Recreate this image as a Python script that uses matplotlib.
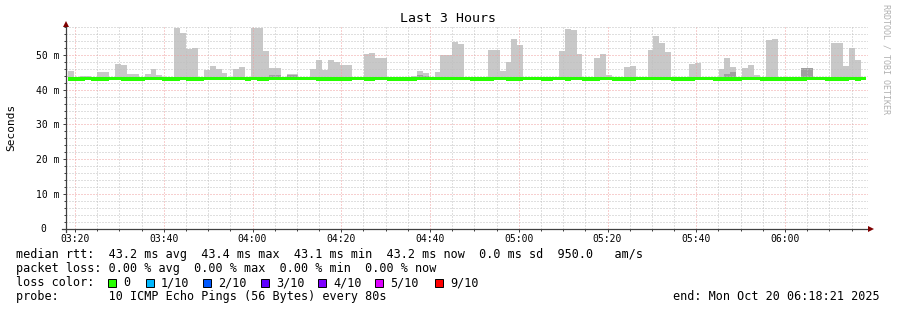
import matplotlib
matplotlib.use("Agg")
import matplotlib.pyplot as plt
import matplotlib.transforms as mtransforms
import numpy as np
from matplotlib.patches import Rectangle
from matplotlib.ticker import MultipleLocator, FuncFormatter

# canvas size in pixels (dpi 100)
W, H = 897, 310
MONO = "DejaVu Sans Mono"

# --- data ---
start_minute = 3 * 60 + 18 + 21 / 60.0   # 03:18:21
step_minutes = 80 / 60.0                 # one ping round every 80s
nan = np.nan

# top of the grey smoke per 80s step (nan = no smoke visible)
smoke_max = [
    45.5, nan, 43.9, 43.9, nan, 45.1, 45.1, nan, 47.5, 47.1, 44.5, 44.5, nan, 44.5, 46.0,
    44.2, nan, nan, 57.9, 56.4, 51.8, 52.1, nan, 45.7, 46.8, 46.0, 44.8, nan, 46.0, 46.5,
    nan, 57.9, 57.9, 51.2, 46.2, 46.2, nan, 44.5, 44.5, nan, nan, 46.0, 48.5, 45.7, 48.5,
    48.0, 47.1, 47.1, nan, nan, 50.3, 50.6, 49.1, 49.1, nan, nan, nan, nan, 43.9, 45.4,
    44.8, nan, 45.1, 50.0, 50.0, 53.8, 53.2, nan, nan, nan, nan, 51.4, 51.4, 45.4, 48.0,
    54.6, 52.9, nan, nan, nan, nan, nan, nan, 51.2, 57.5, 57.2, 50.3, nan, nan, 49.1,
    50.3, 44.2, nan, nan, 46.5, 46.8, nan, nan, 51.4, 55.5, 53.5, 50.9, nan, nan, nan,
    47.4, 47.7, nan, nan, nan, 46.0, 49.1, 46.5, nan, 46.2, 47.1, 44.2, nan, 54.3, 54.6,
    nan, nan, nan, nan, 46.2, 46.3, nan, nan, nan, 53.5, 53.5, 46.8, 52.0, 48.5, nan,
]

# darker inner smoke layer
smoke_inner = [nan] * 135
for i, v in {34: 44.2, 35: 44.2, 37: 44.2, 38: 44.2, 59: 44.2, 60: 44.0,
             100: 43.6, 101: 43.6, 111: 44.5, 112: 45.1, 124: 46.2, 125: 46.3}.items():
    smoke_inner[i] = v

# median rtt per step
median = [
    43.0, 43.0, 43.0, 43.3, 43.0, 43.0, 43.0, 43.3, 43.3, 43.0, 43.0, 43.0, 43.0, 43.3, 43.3,
    43.3, 43.0, 43.0, 43.0, 43.3, 43.0, 43.0, 43.0, 43.3, 43.3, 43.3, 43.3, 43.3, 43.3, 43.3,
    43.0, 43.3, 43.0, 43.0, 43.3, 43.3, 43.3, 43.3, 43.3, 43.3, 43.3, 43.3, 43.0, 43.0, 43.0,
    43.0, 43.0, 43.0, 43.3, 43.3, 43.0, 43.0, 43.3, 43.3, 43.0, 43.0, 43.0, 43.0, 43.0, 43.3,
    43.3, 43.3, 43.3, 43.3, 43.3, 43.3, 43.3, 43.3, 43.0, 43.0, 43.0, 43.0, 43.3, 43.3, 43.0,
    43.0, 43.0, 43.3, 43.3, 43.3, 43.0, 43.0, 43.3, 43.3, 43.0, 43.3, 43.3, 43.0, 43.0, 43.0,
    43.3, 43.3, 43.0, 43.0, 43.0, 43.0, 43.3, 43.3, 43.3, 43.3, 43.3, 43.3, 43.0, 43.0, 43.0,
    43.0, 43.3, 43.3, 43.3, 43.0, 43.0, 43.0, 43.0, 43.0, 43.3, 43.3, 43.3, 43.0, 43.0, 43.0,
    43.0, 43.0, 43.0, 43.0, 43.0, 43.3, 43.3, 43.3, 43.0, 43.0, 43.0, 43.0, 43.3, 43.0, 43.3,
]

legend_rows = [
    "median rtt:  43.2 ms avg  43.4 ms max  43.1 ms min  43.2 ms now  0.0 ms sd  950.0   am/s",
    "packet loss: 0.00 % avg  0.00 % max  0.00 % min  0.00 % now",
    "loss color:",
    "probe:       10 ICMP Echo Pings (56 Bytes) every 80s",
]
loss_labels = ["0", "1/10", "2/10", "3/10", "4/10", "5/10", "9/10"]
loss_colors = ["#26ff00", "#00b8ff", "#0059ff", "#5e00ff", "#7e00ff", "#dd00ff", "#ff0000"]
end_text = "end: Mon Oct 20 06:18:21 2025"

# --- figure ---
fig = plt.figure(figsize=(W / 100, H / 100), dpi=100)
fig.patch.set_facecolor("white")

# plot area: x 66..868 px, y 26..228.5 px
ax = fig.add_axes([66 / W, 81.5 / H, 802 / W, 202.5 / H])
ax.set_facecolor("white")

smax = np.array(smoke_max, dtype=float)
sinner = np.array(smoke_inner, dtype=float)
med = np.array(median, dtype=float)
edges = start_minute + step_minutes * np.arange(len(med) + 1)

def ext(a):
    return np.append(a, a[-1])

hi = np.where(np.isnan(smax), med, smax)
ax.fill_between(edges, ext(med), ext(hi), step="post", color="#c8c8c8", lw=0, zorder=1)
inner = np.where(np.isnan(sinner), med, sinner)
ax.fill_between(edges, ext(med), ext(inner), step="post", color="#a0a0a0", lw=0, zorder=1.1)

# median line (drawn as a band, thicker where the median dips)
ax.fill_between(edges, ext(med - 0.4), ext(np.full_like(med, med.max() + 0.4)),
                step="post", color="#26ff00", lw=0, zorder=3)

ax.set_xlim(197.97, 378.7)
ax.set_ylim(0, 58.4)

ax.xaxis.set_major_locator(MultipleLocator(20))
ax.xaxis.set_minor_locator(MultipleLocator(5))
ax.yaxis.set_major_locator(MultipleLocator(10))
ax.yaxis.set_minor_locator(MultipleLocator(2))
ax.xaxis.set_major_formatter(FuncFormatter(lambda v, p: "%02d:%02d" % (int(round(v)) // 60, int(round(v)) % 60)))
ax.yaxis.set_major_formatter(FuncFormatter(lambda v, p: "0  " if v == 0 else "%d m" % v))

dots = (0, (1, 2))
ax.grid(which="minor", color="#c0c0c0", linestyle=dots, linewidth=0.72, zorder=2)
ax.grid(which="major", color="#f0a0a0", linestyle=dots, linewidth=0.72, zorder=2)
ax.set_axisbelow(False)

for s in ax.spines.values():
    s.set_visible(False)

axis_c = "#404040"
ax.tick_params(which="major", length=2.2, width=0.72, color=axis_c, labelsize=7, pad=1.5)
ax.tick_params(which="minor", length=1.2, width=0.72, color=axis_c)
ax.tick_params(axis="y", which="major", pad=2.8)
for lab in ax.get_xticklabels() + ax.get_yticklabels():
    lab.set_family(MONO)

# axis lines with arrows
ax.plot([0, 0], [-0.018, 1.0], transform=ax.transAxes, color=axis_c, lw=0.9, clip_on=False, zorder=4)
ax.plot([-0.005, 1.0], [0, 0], transform=ax.transAxes, color=axis_c, lw=0.9, clip_on=False, zorder=4)
up = mtransforms.ScaledTranslation(0, 2.5 / 100, fig.dpi_scale_trans)
right = mtransforms.ScaledTranslation(2.5 / 100, 0, fig.dpi_scale_trans)
ax.plot([0], [1], marker="^", ms=4.5, color="#7f0000", mew=0, transform=ax.transAxes + up, clip_on=False, zorder=5)
ax.plot([1], [0], marker=">", ms=4.5, color="#7f0000", mew=0, transform=ax.transAxes + right, clip_on=False, zorder=5)

# titles and side texts
fig.text(448 / W, 1 - 19 / H, "Last 3 Hours", family=MONO, fontsize=9.5, ha="center", va="center")
fig.text(11 / W, 1 - 127 / H, "Seconds", family=MONO, fontsize=8, rotation=90, ha="center", va="center")
fig.text(886 / W, 1 - 59 / H, "RRDTOOL / TOBI OETIKER", family=MONO, fontsize=6, rotation=270,
         ha="center", va="center", color="#b0b0b0")

# legend block
row_y = [254.5, 268.5, 282.5, 296.5]
for txt, y in zip(legend_rows, row_y):
    fig.text(16 / W, 1 - y / H, txt, family=MONO, fontsize=8.5, ha="left", va="center")

box_x = [108, 146, 203, 261, 318, 375, 435]
for bx, lab, c in zip(box_x, loss_labels, loss_colors):
    fig.add_artist(Rectangle((bx / W, 1 - 287 / H), 8 / W, 8 / H, transform=fig.transFigure,
                             facecolor=c, edgecolor="black", lw=0.7))
    fig.text((bx + 15) / W, 1 - row_y[2] / H, lab, family=MONO, fontsize=8.5, ha="left", va="center")

fig.text(880 / W, 1 - row_y[3] / H, end_text, family=MONO, fontsize=8.5, ha="right", va="center")

fig.savefig("out.png", dpi=100)
